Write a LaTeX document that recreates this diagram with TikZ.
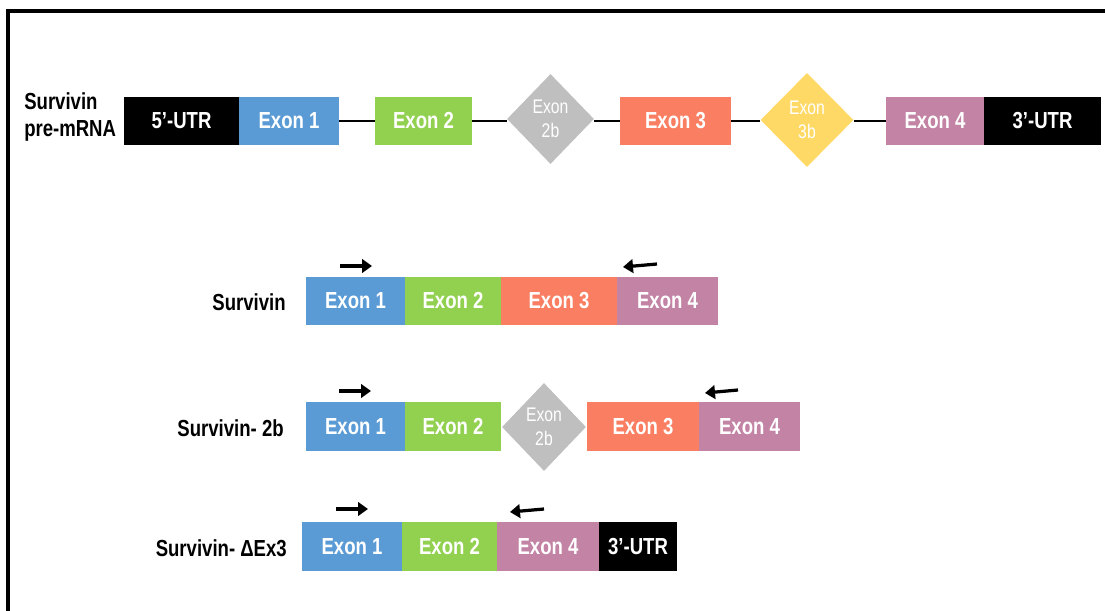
\documentclass[tikz,border=0pt]{standalone}
\usepackage{fontspec}
\setmainfont{Liberation Sans}[FakeStretch=0.8]
\usetikzlibrary{arrows.meta,positioning,shapes.geometric}

\definecolor{exone}{HTML}{5B9BD5}
\definecolor{extwo}{HTML}{92D050}
\definecolor{exthree}{HTML}{FA7E61}
\definecolor{exfour}{HTML}{C283A4}
\definecolor{extwob}{HTML}{BFBFBF}
\definecolor{exthreeb}{HTML}{FFD966}

\tikzset{
	seg/.style={rectangle, inner sep=0pt, minimum height=1.2cm, text=white,
		font=\bfseries\fontsize{16.5}{18}\selectfont},
	alt/.style={diamond, aspect=1, inner sep=0pt, text=white, align=center,
		font=\fontsize{14}{17.5}\selectfont},
	lbl/.style={inner sep=0pt, font=\bfseries\fontsize{16.5}{19}\selectfont},
	intron/.style={line width=0.8pt},
	primer/.style={line width=2.3pt, -{Triangle[length=0.25cm,width=0.34cm]}}
}

\begin{document}
\begin{tikzpicture}[x=0.025cm, y=-0.025cm]
\useasboundingbox (0,0) rectangle (1105,611);

% frame
\draw[line width=2.4pt] (8,611) -- (8,11) -- (1105,11);

% pre-mRNA
\node[lbl, anchor=west, align=left] (lpre) at (24,117) {Survivin\\pre-mRNA};
\foreach \nm/\xa/\xb/\col/\txt in {utrf/124/239/black/5’-UTR, one/239/339/exone/Exon 1,
	two/375/472/extwo/Exon 2, three/620/731/exthree/Exon 3,
	four/886/984/exfour/Exon 4, utrt/984/1101/black/3’-UTR} {
	\pgfmathsetmacro{\bw}{(\xb-\xa)*0.025}
	\node[seg, fill=\col, minimum width=\bw cm] (p\nm) at ({(\xa+\xb)/2},121) {\txt};
}
\node[alt, fill=extwob, minimum width=87*0.025cm, minimum height=90*0.025cm] (ptwob) at (550.5,119) {Exon\\2b};
\node[alt, fill=exthreeb, minimum width=93*0.025cm, minimum height=94*0.025cm] (pthreeb) at (807,120) {Exon\\3b};

% introns
\draw[intron] (pone.east) -- (ptwo.west);
\draw[intron] (ptwo.east) -- (ptwo.east -| ptwob.west);
\draw[intron] (pthree.west -| ptwob.east) -- (pthree.west);
\draw[intron] (pthree.east) -- (pthree.east -| pthreeb.west);
\draw[intron] (pfour.west -| pthreeb.east) -- (pfour.west);

% Survivin
\node[lbl, anchor=east] (lwt) at (286,302) {Survivin};
\foreach \nm/\xa/\xb/\col/\txt in {one/306/405/exone/Exon 1, two/405/501/extwo/Exon 2,
	three/501/617/exthree/Exon 3, four/617/718/exfour/Exon 4} {
	\pgfmathsetmacro{\bw}{(\xb-\xa)*0.025}
	\node[seg, fill=\col, minimum width=\bw cm] (a\nm) at ({(\xa+\xb)/2},301) {\txt};
}

% Survivin-2b
\node[lbl, anchor=east] (ltwob) at (284,428) {Survivin- 2b};
\foreach \nm/\xa/\xb/\col/\txt in {one/306/405/exone/Exon 1, two/405/501/extwo/Exon 2,
	three/587/699/exthree/Exon 3, four/699/800/exfour/Exon 4} {
	\pgfmathsetmacro{\bw}{(\xb-\xa)*0.025}
	\node[seg, fill=\col, minimum width=\bw cm] (b\nm) at ({(\xa+\xb)/2},426.5) {\txt};
}
\node[alt, fill=extwob, minimum width=84*0.025cm, minimum height=88*0.025cm] (btwob) at (544,427) {Exon\\2b};

% Survivin-dEx3
\node[lbl, anchor=east] (ldel) at (287,548) {Survivin- ΔEx3};
\foreach \nm/\xa/\xb/\col/\txt in {one/302/402/exone/Exon 1, two/402/497/extwo/Exon 2,
	four/497/599/exfour/Exon 4, utrt/599/677/black/3’-UTR} {
	\pgfmathsetmacro{\bw}{(\xb-\xa)*0.025}
	\node[seg, fill=\col, minimum width=\bw cm] (c\nm) at ({(\xa+\xb)/2},546.5) {\txt};
}

% primers
\foreach \nm/\xa/\ya/\xb/\yb in {af/340/266/372/266, ar/657/264/623/267,
	bf/339/391/371/391, br/738/390/705/393,
	cf/336/509/368/509, cr/544/509/510/512} {
	\coordinate (\nm s) at (\xa,\ya);
	\coordinate (\nm e) at (\xb,\yb);
	\draw[primer] (\nm s) -- (\nm e);
}
\end{tikzpicture}
\end{document}
